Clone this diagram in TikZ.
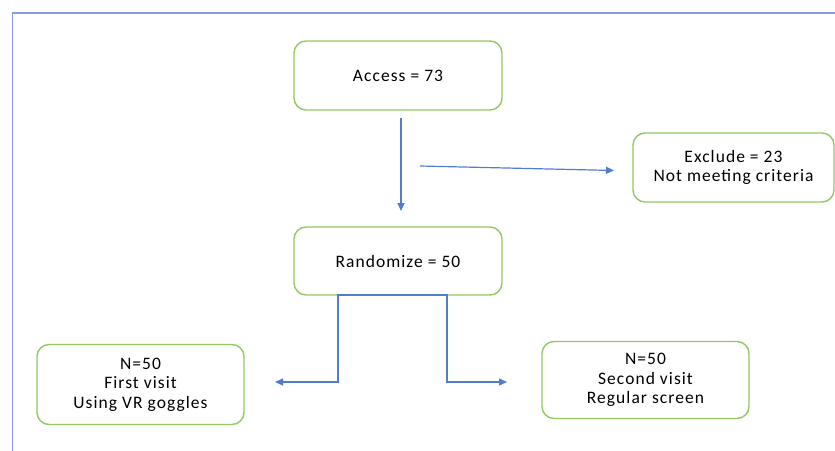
\documentclass[tikz,border=0pt]{standalone}
\usepackage{fontspec}
\setmainfont{Carlito}[LetterSpace=6]
\usetikzlibrary{arrows.meta}
\definecolor{boxgreen}{RGB}{146,200,98}
\definecolor{linkblue}{RGB}{82,124,204}
\definecolor{framblue}{RGB}{130,160,215}
\tikzset{
  stepbox/.style={draw=boxgreen, line width=1.4pt, rounded corners=12pt, fill=white,
    align=center, inner sep=0pt, font=\fontsize{17.5}{19.5}\selectfont, text=black},
  link/.style={draw=linkblue, line width=1.2pt, -{Triangle[length=8pt,width=7pt]}},
}
\begin{document}
\begin{tikzpicture}[x=1pt,y=-1pt]
\useasboundingbox (0,0) rectangle (835,450);
\draw[framblue, line width=1.5pt] (12.5,452) -- (12.5,13) -- (837,13);

\node[stepbox, minimum width=208pt, minimum height=69pt] (access) at (398,75.5) {Access = 73};
\node[stepbox, minimum width=208pt, minimum height=68pt] (rand) at (398,261) {Randomize = 50};
\node[stepbox, minimum width=201pt, minimum height=69pt] (excl) at (733.5,167.5) {Exclude = 23\\Not meeting criteria};
\node[stepbox, minimum width=207pt, minimum height=80pt] (first) at (140.5,384.5) {N=50\\First visit\\Using VR goggles};
\node[stepbox, minimum width=207pt, minimum height=77pt] (second) at (645.5,380) {N=50\\Second visit\\Regular screen};

\coordinate (dtop) at (401,118);
\coordinate (dend) at (401,211);
\coordinate (xstart) at (420,166);
\coordinate (xend) at (614,170.5);
\coordinate (ltip) at (275,382);
\coordinate (rtip) at (507,382);

\draw[link] (dtop) -- (dend);
\draw[link] (xstart) -- (xend);
\draw[link, {Triangle[length=8pt,width=7pt]}-{Triangle[length=8pt,width=7pt]}]
  (ltip) -- (338,382) -- (338,295) -- (447,295) -- (447,382) -- (rtip);
\end{tikzpicture}
\end{document}
